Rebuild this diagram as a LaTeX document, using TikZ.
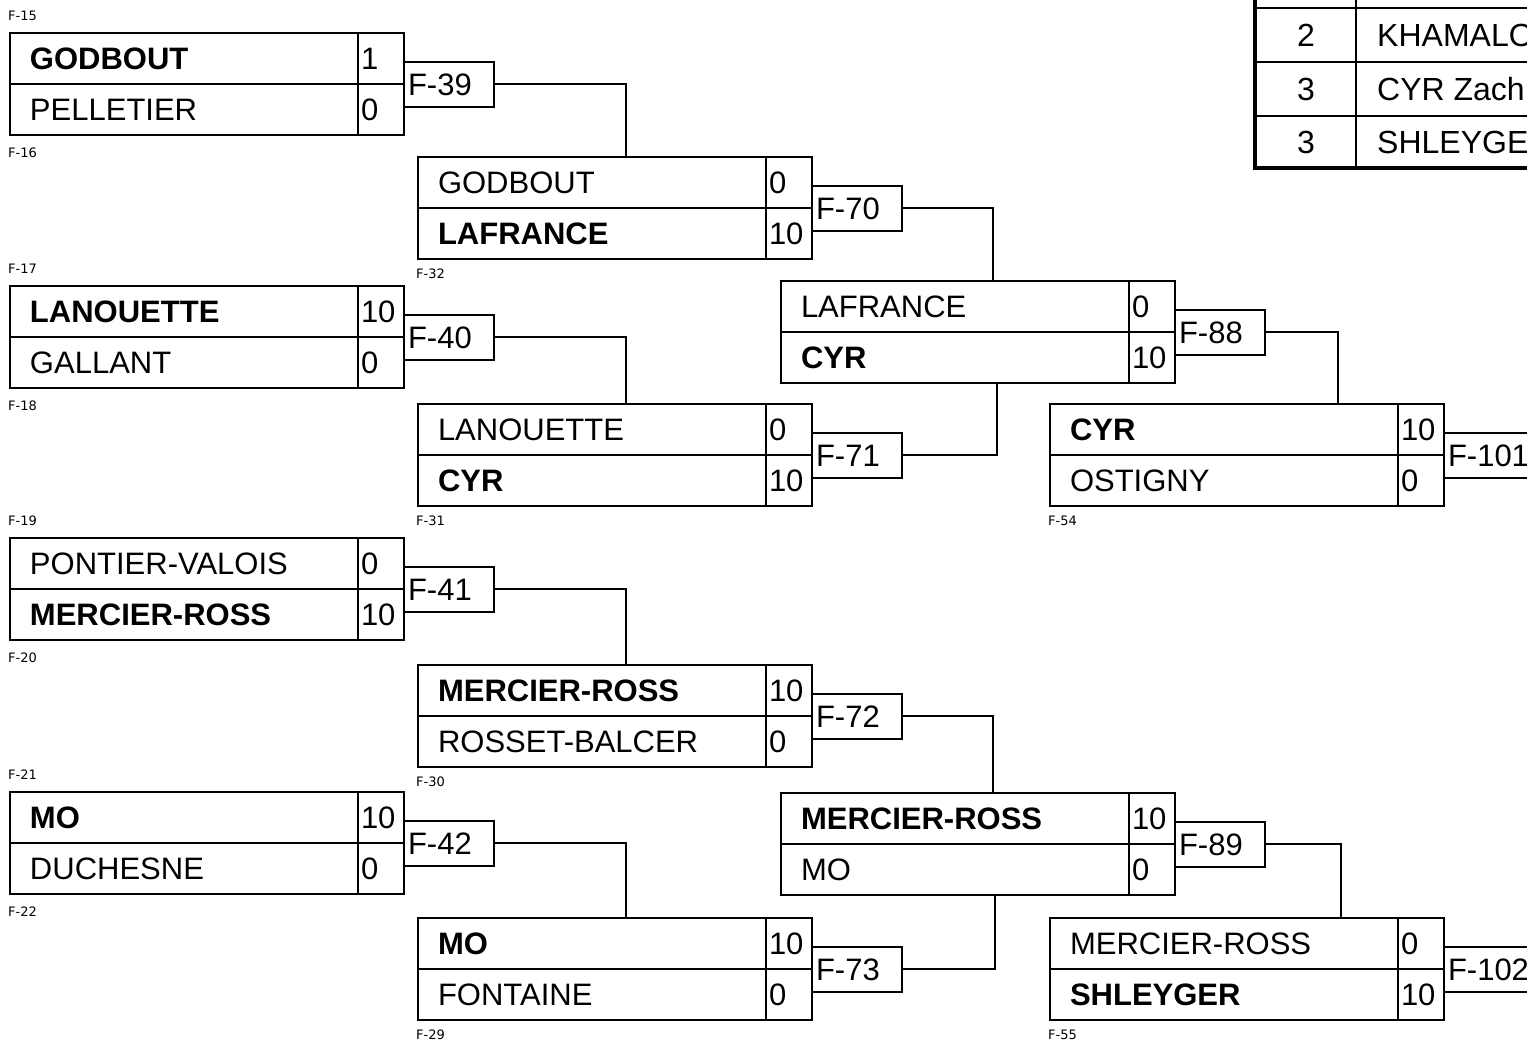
\documentclass[tikz,border=0pt]{standalone}
\usepackage{fontspec}
\setmainfont{Liberation Sans}
\newfontfamily\feedfont{DejaVu Sans}
\usetikzlibrary{positioning}

\tikzset{
  namecell/.style={draw,line width=2pt,minimum height=51pt,text width=308pt,
                   inner xsep=20pt,inner ysep=0pt,outer sep=0pt,align=left,
                   text height=22pt,text depth=0pt,
                   font=\fontsize{31}{37}\selectfont},
  scorecell/.style={namecell,text width=40pt,inner xsep=3pt},
  labelbox/.style={namecell,minimum height=45pt,text width=82pt,inner xsep=4pt},
  feed/.style={inner sep=0pt,font=\feedfont\fontsize{13}{15}\selectfont},
  link/.style={draw,line width=2pt},
  tabtext/.style={inner sep=0pt,text height=23pt,text depth=0pt,
                  font=\fontsize{32}{38}\selectfont}
}

% one match: id, top left corner, first player, score, second player, score
\newcommand{\duel}[6]{%
  \node[namecell,anchor=north west] (m#1a) at (#2) {#3};
  \node[scorecell,right=0pt of m#1a] (m#1as) {#4};
  \node[namecell,below=0pt of m#1a] (m#1b) {#5};
  \node[scorecell,right=0pt of m#1b] (m#1bs) {#6};
  \node[labelbox,anchor=west] (f#1) at (m#1as.south east) {F-#1};}

\begin{document}
\begin{tikzpicture}[x=1pt,y=-1pt]
  \useasboundingbox (0,0) rectangle (1527,1044);
  \clip (0,0) rectangle (1527,1044);

  % first round
  \duel{39}{10,33}{\textbf{GODBOUT}}{1}{PELLETIER}{0}
  \duel{40}{10,286}{\textbf{LANOUETTE}}{10}{GALLANT}{0}
  \duel{41}{10,538}{PONTIER-VALOIS}{0}{\textbf{MERCIER-ROSS}}{10}
  \duel{42}{10,792}{\textbf{MO}}{10}{DUCHESNE}{0}

  % second round
  \duel{70}{418,157}{GODBOUT}{0}{\textbf{LAFRANCE}}{10}
  \duel{71}{418,404}{LANOUETTE}{0}{\textbf{CYR}}{10}
  \duel{72}{418,665}{\textbf{MERCIER-ROSS}}{10}{ROSSET-BALCER}{0}
  \duel{73}{418,918}{\textbf{MO}}{10}{FONTAINE}{0}

  % third round
  \duel{88}{781,281}{LAFRANCE}{0}{\textbf{CYR}}{10}
  \duel{89}{781,793}{\textbf{MERCIER-ROSS}}{10}{MO}{0}

  % fourth round
  \duel{101}{1050,404}{\textbf{CYR}}{10}{OSTIGNY}{0}
  \duel{102}{1050,918}{MERCIER-ROSS}{0}{\textbf{SHLEYGER}}{10}

  % feed labels
  \node[feed,anchor=west] (l15) at ([shift={(-2,-17)}]m39a.north west) {F-15};
  \node[feed,anchor=west] (l16) at ([shift={(-2,18)}]m39b.south west) {F-16};
  \node[feed,anchor=west] (l17) at ([shift={(-2,-17)}]m40a.north west) {F-17};
  \node[feed,anchor=west] (l18) at ([shift={(-2,18)}]m40b.south west) {F-18};
  \node[feed,anchor=west] (l19) at ([shift={(-2,-17)}]m41a.north west) {F-19};
  \node[feed,anchor=west] (l20) at ([shift={(-2,18)}]m41b.south west) {F-20};
  \node[feed,anchor=west] (l21) at ([shift={(-2,-17)}]m42a.north west) {F-21};
  \node[feed,anchor=west] (l22) at ([shift={(-2,18)}]m42b.south west) {F-22};
  \node[feed,anchor=west] (l32) at ([shift={(-2,15)}]m70b.south west) {F-32};
  \node[feed,anchor=west] (l31) at ([shift={(-2,15)}]m71b.south west) {F-31};
  \node[feed,anchor=west] (l30) at ([shift={(-2,15)}]m72b.south west) {F-30};
  \node[feed,anchor=west] (l29) at ([shift={(-2,15)}]m73b.south west) {F-29};
  \node[feed,anchor=west] (l54) at ([shift={(-2,15)}]m101b.south west) {F-54};
  \node[feed,anchor=west] (l55) at ([shift={(-2,15)}]m102b.south west) {F-55};

  % winners move on
  \draw[link] (f39.east) -| ([xshift=208pt]m70a.north west);
  \draw[link] (f40.east) -| ([xshift=208pt]m71a.north west);
  \draw[link] (f41.east) -| ([xshift=208pt]m72a.north west);
  \draw[link] (f42.east) -| ([xshift=208pt]m73a.north west);
  \draw[link] (f70.east) -| ([xshift=212pt]m88a.north west);
  \draw[link] (f71.east) -| ([xshift=216pt]m88b.south west);
  \draw[link] (f72.east) -| ([xshift=212pt]m89a.north west);
  \draw[link] (f73.east) -| ([xshift=214pt]m89b.south west);
  \draw[link] (f88.east) -| ([xshift=288pt]m101a.north west);
  \draw[link] (f89.east) -| ([xshift=291pt]m102a.north west);

  % standings table
  \draw[line width=2pt] (1356,-5) -- (1356,168)
                        (1255,8) -- (1540,8)
                        (1255,62) -- (1540,62)
                        (1255,116) -- (1540,116);
  \draw[line width=4pt] (1255,-5) -- (1255,168) -- (1540,168);
  \node[tabtext] (r2) at (1306,35) {2};
  \node[tabtext] (r3a) at (1306,89) {3};
  \node[tabtext] (r3b) at (1306,142) {3};
  \node[tabtext,anchor=west] (n2) at (1377,35) {KHAMALO};
  \node[tabtext,anchor=west] (n3a) at (1377,89) {CYR Zach};
  \node[tabtext,anchor=west] (n3b) at (1377,142) {SHLEYGER};
\end{tikzpicture}
\end{document}
